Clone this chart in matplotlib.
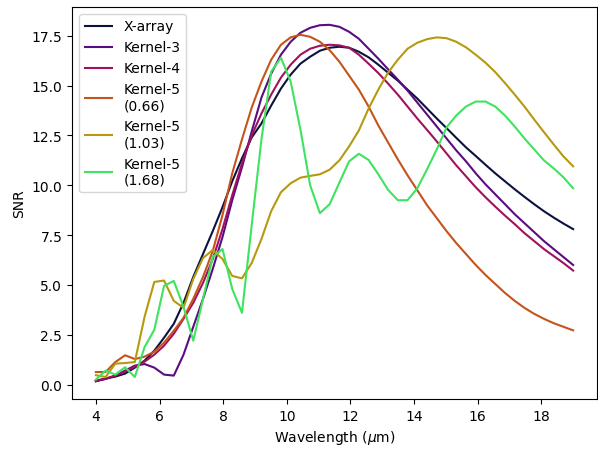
import numpy as np
import matplotlib
matplotlib.use("Agg")
import matplotlib.pyplot as plt

wavelength = np.linspace(4, 19, 50)

x_array = [0.17, 0.3, 0.4, 0.55, 0.85, 1.2, 1.7, 2.35, 3.05, 4.1,
           5.4, 6.55, 7.7, 8.9, 10.2, 11.35, 12.4, 13.1, 14.0, 14.85,
           15.55, 16.1, 16.45, 16.75, 16.9, 16.95, 16.9, 16.7, 16.42, 16.05,
           15.65, 15.25, 14.8, 14.35, 13.85, 13.35, 12.87, 12.38, 11.9, 11.47,
           11.03, 10.6, 10.2, 9.8, 9.42, 9.05, 8.7, 8.38, 8.08, 7.8]

kernel3 = [0.17, 0.28, 0.45, 0.7, 0.95, 1.03, 0.85, 0.5, 0.45, 1.5,
           2.9, 4.3, 5.8, 7.4, 9.25, 10.9, 12.7, 14.4, 15.6, 16.55,
           17.2, 17.65, 17.9, 18.03, 18.05, 17.95, 17.7, 17.35, 16.85, 16.35,
           15.82, 15.3, 14.75, 14.15, 13.55, 12.95, 12.35, 11.75, 11.2, 10.6,
           10.05, 9.55, 9.05, 8.55, 8.1, 7.65, 7.2, 6.8, 6.4, 6.0]

kernel4 = [0.2, 0.3, 0.45, 0.65, 0.9, 1.15, 1.5, 1.95, 2.55, 3.3,
           4.1, 5.1, 6.3, 7.8, 9.5, 11.1, 12.5, 13.6, 14.55, 15.4,
           16.05, 16.55, 16.85, 17.0, 17.05, 17.02, 16.9, 16.55, 16.1, 15.63,
           15.1, 14.55, 13.95, 13.35, 12.78, 12.2, 11.6, 11.0, 10.45, 9.9,
           9.4, 8.93, 8.48, 8.05, 7.6, 7.2, 6.8, 6.45, 6.1, 5.72]

kernel5_066 = [0.63, 0.63, 1.13, 1.47, 1.28, 1.4, 1.65, 2.1, 2.7, 3.35,
               4.3, 5.4, 6.7, 8.5, 10.6, 12.3, 13.9, 15.2, 16.3, 17.05,
               17.42, 17.55, 17.45, 17.2, 16.78, 16.2, 15.5, 14.8, 13.95, 13.0,
               12.15, 11.3, 10.5, 9.75, 9.0, 8.35, 7.7, 7.1, 6.55, 6.0,
               5.5, 5.05, 4.6, 4.2, 3.85, 3.55, 3.3, 3.08, 2.9, 2.72]

kernel5_103 = [0.47, 0.38, 1.05, 1.08, 1.13, 3.4, 5.15, 5.22, 4.2, 3.85,
               5.3, 6.35, 6.75, 6.3, 5.45, 5.33, 6.1, 7.3, 8.7, 9.65,
               10.1, 10.38, 10.47, 10.55, 10.78, 11.25, 11.95, 12.75, 13.85, 14.8,
               15.65, 16.3, 16.85, 17.15, 17.33, 17.42, 17.38, 17.2, 16.92, 16.55,
               16.15, 15.68, 15.13, 14.55, 13.95, 13.3, 12.67, 12.05, 11.45, 10.95]

kernel5_168 = [0.25, 0.7, 0.5, 0.87, 0.38, 1.88, 2.75, 4.95, 5.2, 3.9,
               2.2, 4.3, 6.4, 6.8, 4.8, 3.6, 8.0, 12.3, 15.7, 16.4,
               15.2, 12.8, 10.0, 8.6, 9.05, 10.13, 11.2, 11.58, 11.27, 10.55,
               9.77, 9.25, 9.25, 9.85, 10.8, 11.8, 12.9, 13.5, 13.95, 14.2,
               14.2, 13.95, 13.5, 12.95, 12.35, 11.8, 11.25, 10.85, 10.4, 9.85]

labels = ["X-array", "Kernel-3", "Kernel-4", "Kernel-5\n(0.66)",
          "Kernel-5\n(1.03)", "Kernel-5\n(1.68)"]
series = [x_array, kernel3, kernel4, kernel5_066, kernel5_103, kernel5_168]
colors = ["#0c1240", "#5a0c80", "#a0115e", "#c4541b", "#b6990f", "#3ee35f"]

fig = plt.figure(figsize=(5.98, 4.52), dpi=100)
ax = fig.add_axes([72 / 598, 1 - 400 / 452, 525 / 598, 392 / 452])
for ys, lab, c in zip(series, labels, colors):
    ax.plot(wavelength, ys, color=c, label=lab, linewidth=1.5)

ax.set_xticks([4, 6, 8, 10, 12, 14, 16, 18])
ax.set_yticks([0, 2.5, 5, 7.5, 10, 12.5, 15, 17.5])
ax.set_xlabel("Wavelength ($\\mu$m)")
ax.set_ylabel("SNR")
ax.legend(loc="upper left")
fig.savefig("out.png", dpi=100)
